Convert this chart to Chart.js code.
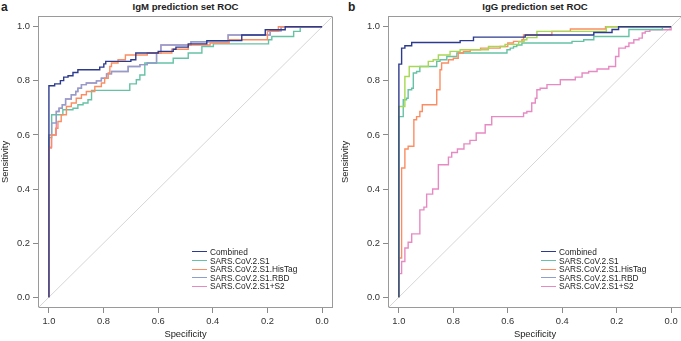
<!DOCTYPE html>
<html>
<head>
<meta charset="utf-8">
<script src="https://cdn.jsdelivr.net/npm/chart.js@4/dist/chart.umd.min.js"></script>
<style>
  html, body { margin:0; padding:0; background:#fff; }
  body { width:681px; height:341px; overflow:hidden; position:relative; font-family:"Liberation Sans", Arial, sans-serif; color:#222; }
  .panel { position:absolute; top:0; height:341px; }
  .ttl { position:absolute; top:1px; font-weight:bold; font-size:9.6px; white-space:nowrap; transform:translateX(-50%); line-height:12px; }
  .lbl { position:absolute; top:0px; font-weight:bold; font-size:12px; line-height:14px; }
  .legend { position:absolute; font-size:8.3px; line-height:8.6px; }
  .legend div { white-space:nowrap; height:8.6px; }
  .legend span.sw { display:inline-block; width:15px; height:0; border-top:1.3px solid; vertical-align:middle; margin-right:3px; position:relative; top:-1px; }
</style>
</head>
<body>
<div class="lbl" style="left:1px;">a</div>
<div class="lbl" style="left:348px;">b</div>
<div class="ttl" style="left:185.5px;">IgM prediction set ROC</div>
<div class="ttl" style="left:535px;">IgG prediction set ROC</div>
<div class="panel" style="left:0;width:340px;"><canvas id="ca" width="340" height="341"></canvas></div>
<div class="panel" style="left:340px;width:345px;"><canvas id="cb" width="345" height="341"></canvas></div>
<div class="legend" id="lega" style="left:192px;top:248px;"></div>
<div class="legend" id="legb" style="left:541px;top:248px;"></div>
<script>
// ---- data ----
const seriesNames = ["Combined", "SARS.CoV.2.S1", "SARS.CoV.2.S1.HisTag", "SARS.CoV.2.S1.RBD", "SARS.CoV.2.S1+S2"];
const tickValues = [0, 0.2, 0.4, 0.6, 0.8, 1.0];

// Panel a: IgM (specificity, sensitivity) step corners
const igmCombinedSpec = [1, 1, .979, .958, .946, .930, .912, .894, .814, .799, .792, .70, .682, .60, .545, .535, .49, .422, .294, .208, .135, 0];
const igmCombinedSens = [0, .782, .789, .801, .814, .819, .831, .841, .851, .863, .872, .878, .903, .909, .917, .925, .937, .949, .970, .989, 1, 1];
const igmS1Spec = [1, 1, .99, .949, .912, .894, .875, .857, .844, .704, .68, .667, .649, .545, .49, .44, .398, .196, .184, .104, .08, 0];
const igmS1Sens = [0, .59, .675, .693, .699, .712, .718, .73, .765, .789, .804, .822, .866, .884, .903, .927, .937, .952, .964, .983, 1, 1];
const igmHisTagSpec = [1, 1, .991, .975, .967, .955, .936, .918, .90, .881, .863, .832, .808, .796, .783, .777, .771, .747, .72, .64, .55, .49, .41, .34, .20, .16, 0];
const igmHisTagSens = [0, .552, .60, .625, .65, .675, .705, .718, .736, .749, .761, .779, .792, .81, .829, .853, .866, .878, .896, .903, .917, .933, .94, .952, .983, 1, 1];
const igmRBDSpec = [1, 1, .99, .973, .963, .951, .939, .918, .902, .894, .881, .863, .826, .808, .789, .771, .71, .667, .64, .606, .59, .48, .344, .19, .15, 0];
const igmRBDSens = [0, .60, .644, .687, .699, .712, .733, .749, .761, .773, .786, .792, .80, .81, .826, .835, .853, .86, .866, .903, .933, .945, .97, .985, 1, 1];
const igmS1S2Spec = [1, 1, .99, .973, .963, .951, .939, .918, .902, .894, .881, .863, .826, .808, .789, .771, .71, .667, .64, .606, .59, .48, .344, .19, .15, 0];
const igmS1S2Sens = [0, .555, .60, .687, .699, .712, .733, .749, .761, .773, .786, .792, .80, .81, .826, .835, .853, .86, .866, .903, .933, .945, .97, .985, 1, 1];

// Panel b: IgG
const iggCombinedSpec = [1, 1, .99, .978, .953, .775, .726, .536, .284, .217, .193, 0];
const iggCombinedSens = [0, .862, .921, .93, .942, .949, .962, .970, .979, .99, 1, 1];
const iggS1Spec = [1, 1, .984, .972, .966, .953, .947, .935, .923, .861, .849, .824, .787, .603, .591, .579, .567, .548, .364, .321, .284, .155, .032, 0];
const iggS1Sens = [0, .668, .73, .736, .767, .773, .829, .835, .853, .872, .878, .89, .903, .915, .921, .927, .933, .94, .946, .952, .964, .99, 1, 1];
const iggHisTagSpec = [1, 1, .99, .978, .966, .945, .935, .923, .914, .861, .849, .843, .818, .80, .782, .763, .738, .70, .628, .60, .579, .548, .542, .438, .37, .241, 0];
const iggHisTagSens = [0, .145, .478, .548, .558, .656, .668, .687, .712, .767, .841, .866, .878, .884, .903, .909, .915, .921, .927, .94, .946, .952, .97, .983, .992, 1, 1];
const iggRBDSpec = [1, 1, .978, .962, .892, .874, .855, .812, .775, .671, .61, .56, .54, .53, .493, .238, 0];
const iggRBDSens = [0, .705, .816, .853, .872, .878, .896, .909, .915, .927, .935, .945, .952, .96, .983, 1, 1];
const iggS1S2Spec = [1, 1, .99, .978, .966, .953, .923, .908, .898, .876, .855, .818, .806, .785, .761, .739, .716, .683, .659, .542, .53, .512, .499, .493, .481, .456, .407, .352, .327, .303, .272, .229, .204, .192, .168, .155, .137, .118, .106, .095, .078, 0];
const iggS1S2Sens = [0, .087, .132, .182, .203, .234, .323, .333, .381, .40, .49, .518, .535, .548, .567, .58, .607, .638, .668, .681, .687, .718, .736, .767, .773, .786, .804, .814, .829, .835, .844, .853, .89, .921, .927, .94, .952, .958, .977, .983, .989, 1, 1];

// ---- styling ----
const colNavy = '#2d3b8e', colTeal = '#66c2a5', colOrange = '#fc8d62', colBlue = '#8da0cb', colPink = '#e78ac3', colLime = '#a6d854';
const FONT = '"Liberation Sans", Arial, sans-serif';

function stepPoints(spec, sens) {
  const pts = [{x: spec[0], y: sens[0]}];
  for (let i = 1; i < spec.length; i++) {
    pts.push({x: spec[i], y: sens[i - 1]});
    pts.push({x: spec[i], y: sens[i]});
  }
  return pts;
}
function ds(spec, sens, color) {
  return { data: stepPoints(spec, sens), borderColor: color, borderWidth: 1.4, pointRadius: 0, showLine: true, fill: false, tension: 0 };
}
function diag() {
  return { data: [{x: -0.04, y: 1.04}, {x: 1.04, y: -0.04}], borderColor: '#d6d6d6', borderWidth: 1, pointRadius: 0, showLine: true, fill: false };
}

const boxPlugin = {
  id: 'box',
  beforeDatasetsDraw(chart) {
    const {ctx, chartArea: a} = chart;
    ctx.save();
    ctx.strokeStyle = '#9a9a9a';
    ctx.lineWidth = 1;
    ctx.strokeRect(Math.round(a.left) + 0.5, Math.round(a.top) + 0.5, Math.round(a.right - a.left) - 1, Math.round(a.bottom - a.top) - 1);
    ctx.restore();
  }
};

function makeChart(id, datasets, yWidth, padRight) {
  const tickOpts = {
    font: {family: FONT, size: 9.4}, color: '#333', padding: 3, autoSkip: false, maxRotation: 0,
    callback: v => Number(v).toFixed(1)
  };
  const gridOpts = {drawOnChartArea: false, drawTicks: true, tickLength: 5, color: '#8a8a8a'};
  return new Chart(document.getElementById(id), {
    type: 'scatter',
    data: {datasets},
    plugins: [boxPlugin],
    options: {
      responsive: false, animation: false, devicePixelRatio: 1,
      layout: {padding: {top: 16, right: padRight, left: 0, bottom: 0}},
      plugins: {legend: {display: false}, tooltip: {enabled: false}},
      scales: {
        x: {
          type: 'linear', reverse: true, min: -0.04, max: 1.04,
          afterBuildTicks: s => { s.ticks = tickValues.map(v => ({value: v})); },
          afterFit: s => { s.height = 33; },
          ticks: tickOpts, grid: gridOpts, border: {display: false},
          title: {display: true, text: 'Specificity', font: {family: FONT, size: 9.4}, color: '#222', padding: {top: 0, bottom: 1}}
        },
        y: {
          type: 'linear', min: -0.04, max: 1.04,
          afterBuildTicks: s => { s.ticks = tickValues.map(v => ({value: v})); },
          afterFit: s => { s.width = yWidth; },
          ticks: tickOpts, grid: gridOpts, border: {display: false},
          title: {display: true, text: 'Sensitivity', font: {family: FONT, size: 9.4}, color: '#222', padding: {top: 0, bottom: 0}}
        }
      }
    }
  });
}

makeChart('ca', [
  ds(igmCombinedSpec, igmCombinedSens, colNavy),
  ds(igmHisTagSpec, igmHisTagSens, colOrange),
  ds(igmRBDSpec, igmRBDSens, colBlue),
  ds(igmS1Spec, igmS1Sens, colTeal),
  ds(igmS1S2Spec, igmS1S2Sens, colPink),
  diag()
], 38, 7);

makeChart('cb', [
  ds(iggCombinedSpec, iggCombinedSens, colNavy),
  ds(iggRBDSpec, iggRBDSens, colLime),
  ds(iggHisTagSpec, iggHisTagSens, colOrange),
  ds(iggS1Spec, iggS1Sens, colTeal),
  ds(iggS1S2Spec, iggS1S2Sens, colPink),
  diag()
], 48, 3);

const legendColors = [colNavy, colTeal, colOrange, colBlue, colPink];
for (const id of ['lega', 'legb']) {
  const el = document.getElementById(id);
  seriesNames.forEach((n, i) => {
    const row = document.createElement('div');
    const sw = document.createElement('span');
    sw.className = 'sw';
    sw.style.borderTopColor = legendColors[i];
    row.appendChild(sw);
    row.appendChild(document.createTextNode(n));
    el.appendChild(row);
  });
}
</script>
</body>
</html>
